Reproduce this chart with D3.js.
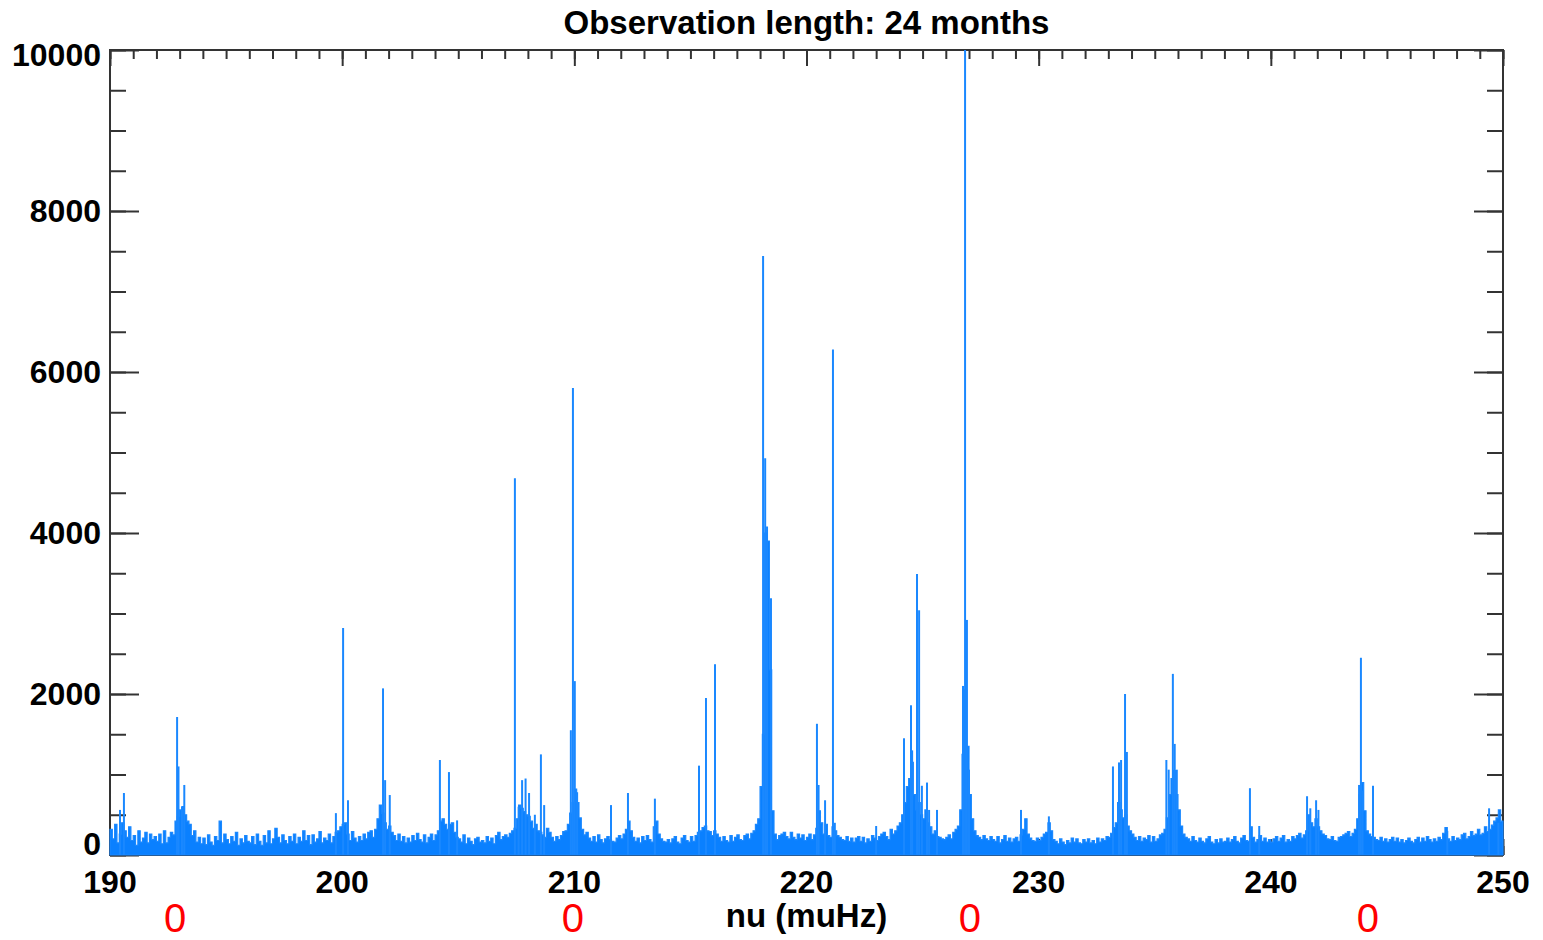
<!DOCTYPE html>
<html>
<head>
<meta charset="utf-8">
<script src="https://cdn.jsdelivr.net/npm/d3@7"></script>
<style>
  html, body { margin: 0; padding: 0; background: #fff; }
  svg { display: block; }
  text { font-family: "Liberation Sans", Arial, sans-serif; }
</style>
</head>
<body>
<svg id="chart" width="1543" height="940"></svg>
<script>
// ---------------- DATA ----------------
const titleText = "Observation length: 24 months";
const xLabelText = "nu (muHz)";
const xDomain = [190, 250];
const yDomain = [0, 10000];
const xTickValues = [190, 200, 210, 220, 230, 240, 250];
const yTickValues = [0, 2000, 4000, 6000, 8000, 10000];

// Background (noise) power, one value every 0.1 muHz starting at 190.0
const noiseStart = 190.0;
const noiseStep = 0.1;
const noisePower = [
  320,200,380,150,260,400,300,220,350,180, 240,120,300,160,210,280,150,260,190,230,
  170,260,140,300,150,220,280,250,420,480, 560,600,500,420,380,240,300,160,220,140,
  210,130,250,160,120,230,180,420,150,260, 190,140,230,170,280,120,200,150,240,170,
  150,230,130,260,170,120,240,150,300,140, 200,330,220,150,250,180,140,230,170,260,
  140,220,170,300,180,240,130,250,160,200, 290,150,210,180,260,150,230,280,300,350,
  380,400,260,180,290,210,160,230,180,260, 200,280,300,220,320,450,620,520,400,320,
  360,280,240,180,260,170,230,150,210,160, 240,180,270,190,160,250,150,220,260,180,
  250,300,420,450,380,320,380,400,280,220, 200,160,250,140,210,170,130,200,220,160,
  180,150,230,170,210,140,240,280,190,230, 250,220,270,300,330,450,620,580,540,500,
  480,420,330,380,300,280,250,220,330,280, 220,170,230,190,240,290,300,380,520,650,
  820,650,460,320,250,280,210,170,230,160, 250,190,150,200,230,190,170,160,210,240,
  200,260,320,420,300,220,170,210,150,230, 180,240,190,160,350,420,260,200,170,160,
  190,150,200,230,160,140,210,240,180,160, 230,170,240,280,300,340,360,300,290,240,
  300,260,220,170,230,180,160,240,170,220, 250,190,180,240,260,200,270,300,380,450,
  850,1500,4000,3900,2300,550,260,190,240,260, 280,230,200,280,220,190,260,210,250,180,
  220,260,190,250,330,550,400,260,380,240, 220,350,300,240,220,190,180,230,170,210,
  160,210,230,170,220,150,200,170,240,210, 180,230,260,280,230,190,320,260,300,360,
  400,500,650,850,950,1150,750,560,650,500, 450,560,400,350,260,300,230,220,200,190,
  220,250,200,280,320,360,560,1250,2050,1350, 750,450,300,240,220,190,240,200,180,230,
  190,170,230,150,190,240,170,210,160,200, 220,170,250,320,450,260,210,180,170,210,
  180,220,260,280,400,300,190,170,140,200, 160,130,180,150,210,160,200,150,140,190,
  160,200,150,180,140,210,160,200,180,230, 220,270,340,400,650,560,460,500,360,300,
  260,220,180,230,170,210,190,240,160,230, 170,200,250,270,320,460,750,950,1050,750,
  560,360,260,220,200,170,230,180,160,210, 170,150,200,230,160,140,190,150,200,160,
  170,210,160,190,230,170,150,210,240,180, 170,350,220,160,190,240,170,210,160,190,
  160,200,230,170,210,240,160,190,170,230, 200,240,270,210,250,300,500,400,350,450,
  350,300,260,240,200,190,230,180,170,220, 230,250,270,290,230,270,320,450,750,900,
  550,300,260,230,220,190,180,220,170,200, 160,190,220,170,210,160,190,150,180,210,
  170,150,190,220,160,210,170,230,190,160, 200,170,220,190,270,340,200,170,230,180,
  210,190,250,270,200,230,290,240,260,320, 250,270,350,290,320,370,420,460,560,420
];

// Narrow spectral peaks: frequency (muHz) and power
const peakNu = [
  190.43,190.6,192.89,192.95,193.1,193.2,199.73,200.04,200.25,201.76,201.85,202.05,
  204.21,204.6,204.95,207.44,207.6,207.75,207.9,208.05,208.3,208.56,208.7,
  209.85,209.94,210.02,210.12,211.58,212.31,213.47,215.37,215.67,216.06,
  218.13,218.22,218.3,218.47,220.45,220.52,220.8,221.14,221.22,223.0,
  224.2,224.5,224.55,224.76,224.85,224.97,225.19,225.28,225.62,
  226.74,226.83,226.91,227.0,229.24,230.44,
  233.2,233.46,233.55,233.72,233.8,235.5,235.6,235.78,235.86,235.95,
  239.1,239.5,241.56,241.7,241.95,242.05,243.8,243.88,243.95,244.4,247.6,249.4,249.8
];
const peakPower = [
  560,770,1714,1100,600,870,520,2820,680,2070,930,745,
  1180,1030,430,4680,600,930,950,770,500,1250,620,
  1550,5800,2160,780,620,770,700,1110,1950,2370,
  7440,4930,4080,3190,1630,870,680,6280,400,360,
  1450,1860,1300,3490,3040,860,900,560,560,
  2100,10000,2920,1060,560,480,
  1100,1150,1180,2000,1280,1180,1060,2250,1380,1060,
  830,360,730,580,680,560,870,2450,800,860,300,580,400
];

// Red annotations under the axis
const markNu = [192.8, 209.94, 227.04, 244.18];
const markText = ["0", "0", "0", "0"];

// ---------------- CHART ----------------
const W = 1543, H = 940;
const M = { left: 110, right: 40, top: 50, bottom: 85 };
const svg = d3.select("#chart");
const x = d3.scaleLinear().domain(xDomain).range([M.left, W - M.right]);
const y = d3.scaleLinear().domain(yDomain).range([H - M.bottom, M.top]);
const axisColor = "#333";
const blue = "#0a80ff";

const xMinor = d3.range(xDomain[0], xDomain[1] + 0.001, 1);
const yMinor = d3.range(yDomain[0], yDomain[1] + 0.001, 500);
const xTickMajorLen = 16, xTickMinorLen = 9;
const yTickMajorLen = 29, yTickMinorLen = 16;

const axG = svg.append("g");
function addAxis(axisGen, transform) {
  const g = axG.append("g").attr("transform", transform).call(axisGen);
  g.select(".domain").remove();
  g.selectAll("line").attr("stroke", axisColor).attr("stroke-width", 2);
  return g;
}
addAxis(d3.axisTop(x).tickValues(xMinor).tickSize(xTickMinorLen).tickFormat(""), `translate(0,${y(0)})`);
addAxis(d3.axisTop(x).tickValues(xTickValues).tickSize(xTickMajorLen).tickFormat(""), `translate(0,${y(0)})`);
addAxis(d3.axisBottom(x).tickValues(xMinor).tickSize(xTickMinorLen).tickFormat(""), `translate(0,${y(10000)})`);
addAxis(d3.axisBottom(x).tickValues(xTickValues).tickSize(xTickMajorLen).tickFormat(""), `translate(0,${y(10000)})`);
addAxis(d3.axisRight(y).tickValues(yMinor).tickSize(yTickMinorLen).tickFormat(""), `translate(${x(190)},0)`);
addAxis(d3.axisRight(y).tickValues(yTickValues).tickSize(yTickMajorLen).tickFormat(""), `translate(${x(190)},0)`);
addAxis(d3.axisLeft(y).tickValues(yMinor).tickSize(yTickMinorLen).tickFormat(""), `translate(${x(250)},0)`);
addAxis(d3.axisLeft(y).tickValues(yTickValues).tickSize(yTickMajorLen).tickFormat(""), `translate(${x(250)},0)`);

axG.append("rect")
  .attr("x", x(190)).attr("y", y(10000))
  .attr("width", x(250) - x(190)).attr("height", y(0) - y(10000))
  .attr("fill", "none").attr("stroke", axisColor).attr("stroke-width", 2);

// ---- data ----
const noise = noisePower.map((p, i) => ({ nu: noiseStart + i * noiseStep, p }));
noise.push({ nu: xDomain[1], p: noisePower[noisePower.length - 1] });

const dataG = svg.append("g");
const area = d3.area().curve(d3.curveStepAfter)
  .x(d => x(d.nu)).y0(y(0)).y1(d => y(d.p));
dataG.append("path").datum(noise)
  .attr("d", area).attr("fill", blue).attr("stroke", "#1a88ff")
  .attr("stroke-width", 1.2).attr("stroke-linejoin", "miter");

const peaks = peakNu.map((nu, i) => ({ nu, p: peakPower[i] }));
dataG.selectAll("line.peak").data(peaks).join("line")
  .attr("class", "peak")
  .attr("x1", d => x(d.nu)).attr("x2", d => x(d.nu))
  .attr("y1", y(0)).attr("y2", d => y(d.p))
  .attr("stroke", "#1a88ff").attr("stroke-width", 2);

// ---- labels ----
const labG = svg.append("g");
labG.selectAll("text.ylab").data(yTickValues).join("text")
  .attr("class", "ylab")
  .attr("x", 101)
  .attr("y", d => d === 10000 ? y(d) + 5 : (d === 0 ? y(d) - 11 : y(d)))
  .attr("text-anchor", "end").attr("dominant-baseline", "central")
  .attr("font-size", 32).attr("font-weight", "bold").attr("fill", "#000")
  .text(d => d);

labG.selectAll("text.xlab").data(xTickValues).join("text")
  .attr("class", "xlab")
  .attr("x", d => x(d)).attr("y", 882)
  .attr("text-anchor", "middle").attr("dominant-baseline", "central")
  .attr("font-size", 32).attr("font-weight", "bold").attr("fill", "#000")
  .text(d => d);

svg.append("text")
  .attr("x", (x(190) + x(250)) / 2).attr("y", 915)
  .attr("text-anchor", "middle").attr("dominant-baseline", "central")
  .attr("font-size", 33).attr("font-weight", "bold").attr("fill", "#000")
  .text(xLabelText);

svg.append("text")
  .attr("x", (x(190) + x(250)) / 2).attr("y", 22)
  .attr("text-anchor", "middle").attr("dominant-baseline", "central")
  .attr("font-size", 33).attr("font-weight", "bold").attr("fill", "#000")
  .text(titleText);

svg.selectAll("text.mark").data(markNu).join("text")
  .attr("class", "mark")
  .attr("x", d => x(d)).attr("y", 918)
  .attr("text-anchor", "middle").attr("dominant-baseline", "central")
  .attr("font-size", 40).attr("fill", "#ff0000")
  .text((d, i) => markText[i]);
</script>
</body>
</html>
